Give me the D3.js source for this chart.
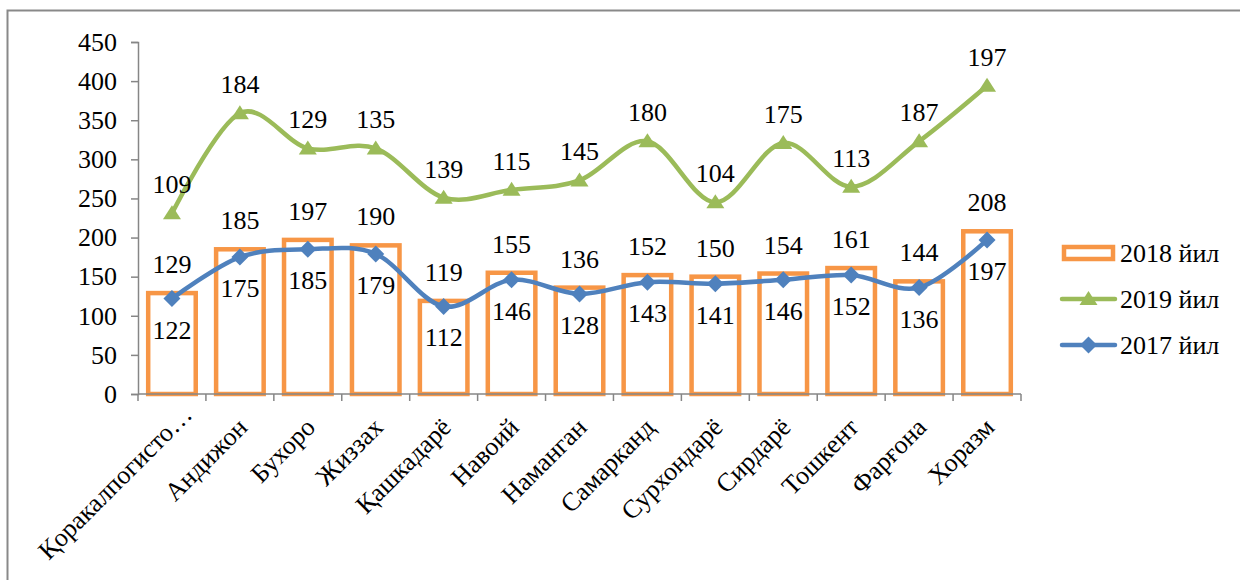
<!DOCTYPE html>
<html>
<head>
<meta charset="utf-8">
<script src="https://cdn.jsdelivr.net/npm/d3@7"></script>
<style>
  html, body { margin: 0; padding: 0; background: #fff; }
  svg { display: block; }
  text { font-family: "Liberation Serif", "Times New Roman", serif; fill: #000; }
</style>
</head>
<body>
<svg id="chart" width="1240" height="580"></svg>
<script>
const categories = ["Қоракалпогисто…", "Андижон", "Бухоро", "Жиззах", "Қашкадарё", "Навоий", "Наманган", "Самарканд", "Сурхондарё", "Сирдарё", "Тошкент", "Фарғона", "Хоразм"];
const values2018 = [129, 185, 197, 190, 119, 155, 136, 152, 150, 154, 161, 144, 208];
const values2019 = [109, 184, 129, 135, 139, 115, 145, 180, 104, 175, 113, 187, 197];
const values2017 = [122, 175, 185, 179, 112, 146, 128, 143, 141, 146, 152, 136, 197];
const yTicks = [0, 50, 100, 150, 200, 250, 300, 350, 400, 450];
const seriesNames = { s2018: "2018 йил", s2019: "2019 йил", s2017: "2017 йил" };

const colors = { s2018: "#F79646", s2019: "#9BBB59", s2017: "#4F81BD", axis: "#868686" };
const fontSize = 26;

const svg = d3.select("#chart");

// outer chart border (right/bottom edges fall outside the picture)
svg.append("path")
  .attr("d", "M7.5,1245 V10.5 H1245")
  .attr("fill", "none").attr("stroke", "#898989").attr("stroke-width", 2);

const x = d3.scaleBand().domain(categories).range([138, 1021]).paddingInner(0).paddingOuter(0);
const y = d3.scaleLinear().domain([0, 450]).range([394, 42]);
const cx = c => x(c) + x.bandwidth() / 2;

// y axis
const yAxis = d3.axisLeft(y).tickValues(yTicks).tickSize(7).tickPadding(14).tickFormat(d3.format("d"));
const gy = svg.append("g").attr("transform", "translate(138,0)").call(yAxis);
gy.select(".domain").attr("stroke", colors.axis).attr("stroke-width", 1.5);
gy.selectAll(".tick line").attr("stroke", colors.axis).attr("stroke-width", 1.5);
gy.selectAll(".tick text").attr("font-size", fontSize).attr("font-family", "Liberation Serif").attr("fill", "#000");

// bars 2018
const barW = x.bandwidth() * 0.7;
svg.append("g").selectAll("rect").data(categories).join("rect")
  .attr("x", c => cx(c) - barW / 2)
  .attr("y", (c, i) => y(values2018[i]))
  .attr("width", barW)
  .attr("height", (c, i) => y(0) - y(values2018[i]))
  .attr("fill", "#fff")
  .attr("stroke", colors.s2018)
  .attr("stroke-width", 4.5);

// x axis (drawn over bar bottoms)
const xAxis = d3.axisBottom(x).tickSize(0).tickFormat("");
const gx = svg.append("g").attr("transform", "translate(0,394)").call(xAxis);
gx.select(".domain").attr("stroke", colors.axis).attr("stroke-width", 1.5).attr("d", "M138,0H1021");
const bounds = d3.range(categories.length + 1).map(i => 138 + i * x.bandwidth());
gx.selectAll("line.bt").data(bounds).join("line").attr("class", "bt")
  .attr("x1", d => d).attr("x2", d => d).attr("y1", 0).attr("y2", 7)
  .attr("stroke", colors.axis).attr("stroke-width", 1.5);

// x labels rotated (the truncated label sits further along its direction, as in the source)
svg.append("g").selectAll("text").data(categories).join("text")
  .attr("transform", c => {
    const shift = c.endsWith("…") ? 18 : 0;
    return `translate(${cx(c) - 4 + shift * 0.707},${394 + 22 - shift * 0.707}) rotate(-45)`;
  })
  .attr("text-anchor", "end")
  .attr("dy", "0.7em")
  .attr("font-size", fontSize)
  .text(c => c);

// stacked line values for 2019 (stacked on 2017)
const stacked2019 = values2019.map((v, i) => v + values2017[i]);

const line = d3.line().curve(d3.curveCardinal.tension(0));
const pts2019 = categories.map((c, i) => [cx(c), y(stacked2019[i])]);
const pts2017 = categories.map((c, i) => [cx(c), y(values2017[i])]);

svg.append("path").attr("d", line(pts2019)).attr("fill", "none")
  .attr("stroke", colors.s2019).attr("stroke-width", 4.5).attr("stroke-linejoin", "round").attr("stroke-linecap", "round");
svg.append("path").attr("d", line(pts2017)).attr("fill", "none")
  .attr("stroke", colors.s2017).attr("stroke-width", 4.5).attr("stroke-linejoin", "round").attr("stroke-linecap", "round");

const triPath = "M0,-8 L9,6 L-9,6 Z";
const diaPath = "M0,-8.5 L8.5,0 L0,8.5 L-8.5,0 Z";

svg.append("g").selectAll("path").data(pts2019).join("path")
  .attr("transform", d => `translate(${d[0]},${d[1]})`)
  .attr("d", triPath).attr("fill", colors.s2019);
svg.append("g").selectAll("path").data(pts2017).join("path")
  .attr("transform", d => `translate(${d[0]},${d[1]})`)
  .attr("d", diaPath).attr("fill", colors.s2017);

// data labels
const lbl = svg.append("g").attr("font-size", fontSize).attr("text-anchor", "middle");
lbl.selectAll("text.l18").data(categories).join("text").attr("class", "l18")
  .attr("x", c => cx(c)).attr("y", (c, i) => y(values2018[i]) - 20).text((c, i) => values2018[i]);
lbl.selectAll("text.l19").data(categories).join("text").attr("class", "l19")
  .attr("x", c => cx(c)).attr("y", (c, i) => y(stacked2019[i]) - 20).text((c, i) => values2019[i]);
lbl.selectAll("text.l17").data(categories).join("text").attr("class", "l17")
  .attr("x", c => cx(c)).attr("y", (c, i) => y(values2017[i]) + 40).text((c, i) => values2017[i]);

// legend
const legend = svg.append("g");
const lx0 = 1062, lx1 = 1115, ltx = 1120;
const rows = [
  { key: "s2018", yy: 253 },
  { key: "s2019", yy: 299 },
  { key: "s2017", yy: 345 }
];
rows.forEach(r => {
  const g = legend.append("g");
  if (r.key === "s2018") {
    g.append("rect").attr("x", lx0 + 2).attr("y", r.yy - 6).attr("width", lx1 - lx0 - 4).attr("height", 12)
      .attr("fill", "#fff").attr("stroke", colors.s2018).attr("stroke-width", 4.5);
  } else {
    g.append("line").attr("x1", lx0).attr("x2", lx1).attr("y1", r.yy).attr("y2", r.yy)
      .attr("stroke", colors[r.key]).attr("stroke-width", 4.5).attr("stroke-linecap", "round");
    g.append("path").attr("transform", `translate(${(lx0 + lx1) / 2},${r.yy})`)
      .attr("d", r.key === "s2019" ? triPath : diaPath).attr("fill", colors[r.key]);
  }
  g.append("text").attr("x", ltx).attr("y", r.yy).attr("dy", "0.35em")
    .attr("font-size", fontSize).text(seriesNames[r.key]);
});
</script>
</body>
</html>
